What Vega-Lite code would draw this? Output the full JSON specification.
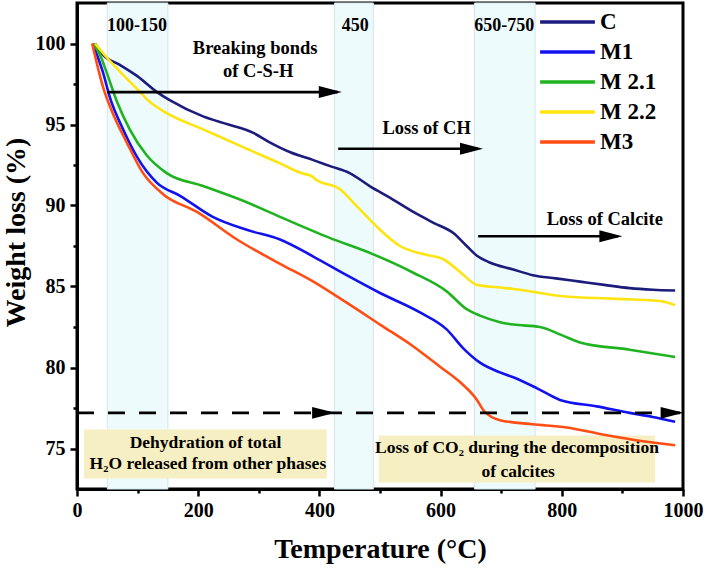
{
  "$schema": "https://vega.github.io/schema/vega-lite/v6.json",
  "width": 606,
  "height": 486,
  "autosize": {"type": "none"},
  "padding": {"left": 77, "top": 3, "right": 23, "bottom": 80},
  "background": "white",
  "config": {
    "font": "Liberation Serif",
    "view": {"stroke": "black", "strokeWidth": 3},
    "axis": {
      "grid": false,
      "domainColor": "black",
      "domainWidth": 3,
      "tickColor": "black",
      "tickWidth": 2.5,
      "labelFlush": false
    }
  },
  "datasets": {
    "curves": [
      {"sample": "C", "T": 30, "w": 100}, {"sample": "C", "T": 43, "w": 99.3}, {"sample": "C", "T": 70, "w": 98.7},
      {"sample": "C", "T": 99, "w": 98.0}, {"sample": "C", "T": 132, "w": 97.0}, {"sample": "C", "T": 153, "w": 96.5},
      {"sample": "C", "T": 208, "w": 95.5}, {"sample": "C", "T": 250, "w": 95.0}, {"sample": "C", "T": 290, "w": 94.5},
      {"sample": "C", "T": 318, "w": 93.9}, {"sample": "C", "T": 351, "w": 93.3}, {"sample": "C", "T": 390, "w": 92.8},
      {"sample": "C", "T": 420, "w": 92.4}, {"sample": "C", "T": 450, "w": 92.0}, {"sample": "C", "T": 483, "w": 91.2},
      {"sample": "C", "T": 520, "w": 90.4}, {"sample": "C", "T": 555, "w": 89.6}, {"sample": "C", "T": 590, "w": 88.9},
      {"sample": "C", "T": 621, "w": 88.3}, {"sample": "C", "T": 643, "w": 87.5}, {"sample": "C", "T": 660, "w": 86.9},
      {"sample": "C", "T": 680, "w": 86.5}, {"sample": "C", "T": 720, "w": 86.05}, {"sample": "C", "T": 752, "w": 85.7},
      {"sample": "C", "T": 790, "w": 85.5}, {"sample": "C", "T": 830, "w": 85.3}, {"sample": "C", "T": 870, "w": 85.1},
      {"sample": "C", "T": 912, "w": 84.9}, {"sample": "C", "T": 950, "w": 84.8}, {"sample": "C", "T": 987, "w": 84.75},

      {"sample": "M1", "T": 26, "w": 100}, {"sample": "M1", "T": 33, "w": 99.3}, {"sample": "M1", "T": 43, "w": 98.2},
      {"sample": "M1", "T": 54, "w": 96.7}, {"sample": "M1", "T": 76, "w": 94.7}, {"sample": "M1", "T": 99, "w": 93.0},
      {"sample": "M1", "T": 132, "w": 91.4}, {"sample": "M1", "T": 170, "w": 90.6}, {"sample": "M1", "T": 224, "w": 89.3},
      {"sample": "M1", "T": 280, "w": 88.5}, {"sample": "M1", "T": 335, "w": 87.9}, {"sample": "M1", "T": 390, "w": 86.85},
      {"sample": "M1", "T": 445, "w": 85.7}, {"sample": "M1", "T": 500, "w": 84.6}, {"sample": "M1", "T": 566, "w": 83.4},
      {"sample": "M1", "T": 610, "w": 82.35}, {"sample": "M1", "T": 637, "w": 81.2}, {"sample": "M1", "T": 665, "w": 80.3},
      {"sample": "M1", "T": 698, "w": 79.7}, {"sample": "M1", "T": 720, "w": 79.4}, {"sample": "M1", "T": 760, "w": 78.7},
      {"sample": "M1", "T": 797, "w": 78.0}, {"sample": "M1", "T": 858, "w": 77.6}, {"sample": "M1", "T": 912, "w": 77.2},
      {"sample": "M1", "T": 950, "w": 76.95}, {"sample": "M1", "T": 987, "w": 76.65},

      {"sample": "M 2.1", "T": 27, "w": 100}, {"sample": "M 2.1", "T": 38, "w": 99.3}, {"sample": "M 2.1", "T": 49, "w": 98.2},
      {"sample": "M 2.1", "T": 66, "w": 96.4}, {"sample": "M 2.1", "T": 87, "w": 94.7}, {"sample": "M 2.1", "T": 115, "w": 93.1},
      {"sample": "M 2.1", "T": 148, "w": 92.0}, {"sample": "M 2.1", "T": 208, "w": 91.2}, {"sample": "M 2.1", "T": 280, "w": 90.2},
      {"sample": "M 2.1", "T": 335, "w": 89.3}, {"sample": "M 2.1", "T": 417, "w": 88.0}, {"sample": "M 2.1", "T": 488, "w": 87.0},
      {"sample": "M 2.1", "T": 555, "w": 85.85}, {"sample": "M 2.1", "T": 610, "w": 84.7}, {"sample": "M 2.1", "T": 643, "w": 83.6},
      {"sample": "M 2.1", "T": 665, "w": 83.2}, {"sample": "M 2.1", "T": 698, "w": 82.8}, {"sample": "M 2.1", "T": 720, "w": 82.65},
      {"sample": "M 2.1", "T": 764, "w": 82.5}, {"sample": "M 2.1", "T": 800, "w": 82.0}, {"sample": "M 2.1", "T": 830, "w": 81.55},
      {"sample": "M 2.1", "T": 912, "w": 81.1}, {"sample": "M 2.1", "T": 987, "w": 80.65},

      {"sample": "M 2.2", "T": 30, "w": 100}, {"sample": "M 2.2", "T": 43, "w": 99.4}, {"sample": "M 2.2", "T": 70, "w": 98.3},
      {"sample": "M 2.2", "T": 99, "w": 97.2}, {"sample": "M 2.2", "T": 120, "w": 96.4}, {"sample": "M 2.2", "T": 148, "w": 95.7},
      {"sample": "M 2.2", "T": 208, "w": 94.7}, {"sample": "M 2.2", "T": 274, "w": 93.6}, {"sample": "M 2.2", "T": 335, "w": 92.6},
      {"sample": "M 2.2", "T": 370, "w": 92.0}, {"sample": "M 2.2", "T": 388, "w": 91.8}, {"sample": "M 2.2", "T": 392, "w": 91.65},
      {"sample": "M 2.2", "T": 434, "w": 91.0}, {"sample": "M 2.2", "T": 462, "w": 89.95}, {"sample": "M 2.2", "T": 500, "w": 88.5},
      {"sample": "M 2.2", "T": 533, "w": 87.5}, {"sample": "M 2.2", "T": 571, "w": 87.0}, {"sample": "M 2.2", "T": 604, "w": 86.7},
      {"sample": "M 2.2", "T": 632, "w": 85.9}, {"sample": "M 2.2", "T": 660, "w": 85.1}, {"sample": "M 2.2", "T": 693, "w": 84.95},
      {"sample": "M 2.2", "T": 720, "w": 84.85}, {"sample": "M 2.2", "T": 802, "w": 84.4}, {"sample": "M 2.2", "T": 885, "w": 84.25},
      {"sample": "M 2.2", "T": 962, "w": 84.1}, {"sample": "M 2.2", "T": 987, "w": 83.85},

      {"sample": "M3", "T": 25, "w": 100}, {"sample": "M3", "T": 30, "w": 99.2}, {"sample": "M3", "T": 43, "w": 97.3},
      {"sample": "M3", "T": 59, "w": 95.7}, {"sample": "M3", "T": 82, "w": 93.9}, {"sample": "M3", "T": 109, "w": 92.0},
      {"sample": "M3", "T": 142, "w": 90.7}, {"sample": "M3", "T": 198, "w": 89.6}, {"sample": "M3", "T": 264, "w": 87.9},
      {"sample": "M3", "T": 335, "w": 86.4}, {"sample": "M3", "T": 390, "w": 85.3}, {"sample": "M3", "T": 445, "w": 84.0},
      {"sample": "M3", "T": 500, "w": 82.65}, {"sample": "M3", "T": 555, "w": 81.3}, {"sample": "M3", "T": 599, "w": 80.05},
      {"sample": "M3", "T": 632, "w": 79.1}, {"sample": "M3", "T": 660, "w": 78.0}, {"sample": "M3", "T": 672, "w": 77.3},
      {"sample": "M3", "T": 698, "w": 76.75}, {"sample": "M3", "T": 752, "w": 76.5}, {"sample": "M3", "T": 808, "w": 76.3},
      {"sample": "M3", "T": 863, "w": 75.9}, {"sample": "M3", "T": 934, "w": 75.45}, {"sample": "M3", "T": 987, "w": 75.2}
    ],
    "bands": [
      {"start": 50, "end": 150, "label": "100-150", "mid": 99},
      {"start": 425, "end": 489, "label": "450", "mid": 459},
      {"start": 656, "end": 756, "label": "650-750", "mid": 705}
    ],
    "boxes": [
      {"x1": 11.5, "x2": 412, "y1": 76.17, "y2": 73.15},
      {"x1": 498, "x2": 954, "y1": 75.8, "y2": 72.9}
    ],
    "boxtext": [
      {"T": 212, "w": 75.37, "text": "Dehydration of total"},
      {"T": 216, "w": 74.07, "text": "H₂O released from other phases"},
      {"T": 726, "w": 75.06, "text": "Loss of CO₂ during the decomposition"},
      {"T": 728, "w": 73.52, "text": "of calcites"}
    ],
    "arrows": [
      {"x1": 50, "x2": 430, "y": 97.0, "style": "solid"},
      {"x1": 431, "x2": 662, "y": 93.5, "style": "solid"},
      {"x1": 662, "x2": 893, "y": 88.1, "style": "solid"},
      {"x1": 0, "x2": 995, "y": 77.2, "style": "dashed"}
    ],
    "heads": [
      {"x": 437, "y": 97.0},
      {"x": 670, "y": 93.5},
      {"x": 900, "y": 88.1},
      {"x": 426, "y": 77.2},
      {"x": 1001, "y": 77.2}
    ],
    "notes": [
      {"T": 294, "w": 99.75, "text": "Breaking bonds"},
      {"T": 299, "w": 98.33, "text": "of C-S-H"},
      {"T": 577, "w": 94.8, "text": "Loss of CH"},
      {"T": 871, "w": 89.15, "text": "Loss of Calcite"}
    ]
  },
  "layer": [
    {
      "data": {"name": "bands"},
      "mark": {"type": "rect", "fill": "#eefbfd", "stroke": "#d3e6ec", "strokeWidth": 1},
      "encoding": {
        "x": {"field": "start", "type": "quantitative", "scale": {"domain": [0, 1000], "nice": false},
          "axis": {
            "title": "Temperature (°C)",
            "values": [0, 100, 200, 300, 400, 500, 600, 700, 800, 900, 1000],
            "format": "d",
            "labelExpr": "datum.value % 200 === 0 ? datum.label : ''",
            "tickSize": {"condition": {"test": "datum.value % 200 === 0", "value": 7}, "value": 4},
            "labelFont": "Liberation Serif",
            "labelFontWeight": "bold",
            "labelFontSize": 20,
            "labelColor": "black",
            "labelPadding": 4,
            "titleFont": "Liberation Serif",
            "titleFontWeight": "bold",
            "titleFontSize": 28,
            "titleColor": "black",
            "titlePadding": 15
          }},
        "x2": {"field": "end"}
      }
    },
    {
      "data": {"name": "bands"},
      "mark": {"type": "text", "fontWeight": "bold", "fontSize": 18, "font": "Liberation Serif", "color": "black", "baseline": "middle"},
      "encoding": {
        "x": {"field": "mid", "type": "quantitative"},
        "y": {"datum": 101.05, "type": "quantitative"},
        "text": {"field": "label"}
      }
    },
    {
      "data": {"name": "boxes"},
      "mark": {"type": "rect", "fill": "#f6efc3"},
      "encoding": {
        "x": {"field": "x1", "type": "quantitative"},
        "x2": {"field": "x2"},
        "y": {"field": "y1", "type": "quantitative"},
        "y2": {"field": "y2"}
      }
    },
    {
      "data": {"name": "boxtext"},
      "mark": {"type": "text", "fontWeight": "bold", "fontSize": 17.5, "font": "Liberation Serif", "color": "black", "baseline": "middle"},
      "encoding": {
        "x": {"field": "T", "type": "quantitative"},
        "y": {"field": "w", "type": "quantitative"},
        "text": {"field": "text"}
      }
    },
    {
      "data": {"name": "curves"},
      "mark": {"type": "line", "strokeWidth": 2.6, "interpolate": "monotone"},
      "encoding": {
        "x": {"field": "T", "type": "quantitative"},
        "y": {"field": "w", "type": "quantitative", "scale": {"domain": [72.5, 102.5], "nice": false, "zero": false},
          "axis": {
            "title": "Weight loss (%)",
            "values": [75, 77.5, 80, 82.5, 85, 87.5, 90, 92.5, 95, 97.5, 100],
            "labelExpr": "datum.value % 5 === 0 ? datum.label : ''",
            "tickSize": {"condition": {"test": "datum.value % 5 === 0", "value": 7}, "value": 4},
            "labelFont": "Liberation Serif",
            "labelFontWeight": "bold",
            "labelFontSize": 20,
            "labelColor": "black",
            "labelPadding": 5,
            "titleFont": "Liberation Serif",
            "titleFontWeight": "bold",
            "titleFontSize": 28,
            "titleColor": "black",
            "titlePadding": 5,
            "titleY": 229
          }},
        "color": {"field": "sample", "type": "nominal",
          "scale": {"domain": ["C", "M1", "M 2.1", "M 2.2", "M3"],
                    "range": ["#1c1c7c", "#1212ee", "#1fb41f", "#ffe40f", "#ff4d14"]},
          "legend": {
            "orient": "none",
            "legendX": 461,
            "legendY": 4,
            "title": null,
            "symbolType": "stroke",
            "symbolSize": 3000,
            "symbolStrokeWidth": 3.5,
            "clipHeight": 30,
            "rowPadding": 0,
            "labelFont": "Liberation Serif",
            "labelFontWeight": "bold",
            "labelFontSize": 23,
            "labelColor": "black",
            "labelOffset": 3
          }},
        "order": {"field": "T", "type": "quantitative"}
      }
    },
    {
      "data": {"name": "arrows"},
      "mark": {"type": "rule", "color": "black", "strokeWidth": 2.6},
      "encoding": {
        "x": {"field": "x1", "type": "quantitative"},
        "x2": {"field": "x2"},
        "y": {"field": "y", "type": "quantitative"},
        "strokeDash": {"field": "style", "type": "nominal", "legend": null,
          "scale": {"domain": ["solid", "dashed"], "range": [[1, 0], [17, 14]]}}
      }
    },
    {
      "data": {"name": "heads"},
      "mark": {"type": "point", "shape": "M-2,-0.52L0,0L-2,0.52Z", "size": 529, "filled": true, "color": "black", "opacity": 1, "strokeWidth": 0},
      "encoding": {
        "x": {"field": "x", "type": "quantitative"},
        "y": {"field": "y", "type": "quantitative"}
      }
    },
    {
      "data": {"name": "notes"},
      "mark": {"type": "text", "fontWeight": "bold", "fontSize": 18.5, "font": "Liberation Serif", "color": "black", "baseline": "middle"},
      "encoding": {
        "x": {"field": "T", "type": "quantitative"},
        "y": {"field": "w", "type": "quantitative"},
        "text": {"field": "text"}
      }
    }
  ]
}
